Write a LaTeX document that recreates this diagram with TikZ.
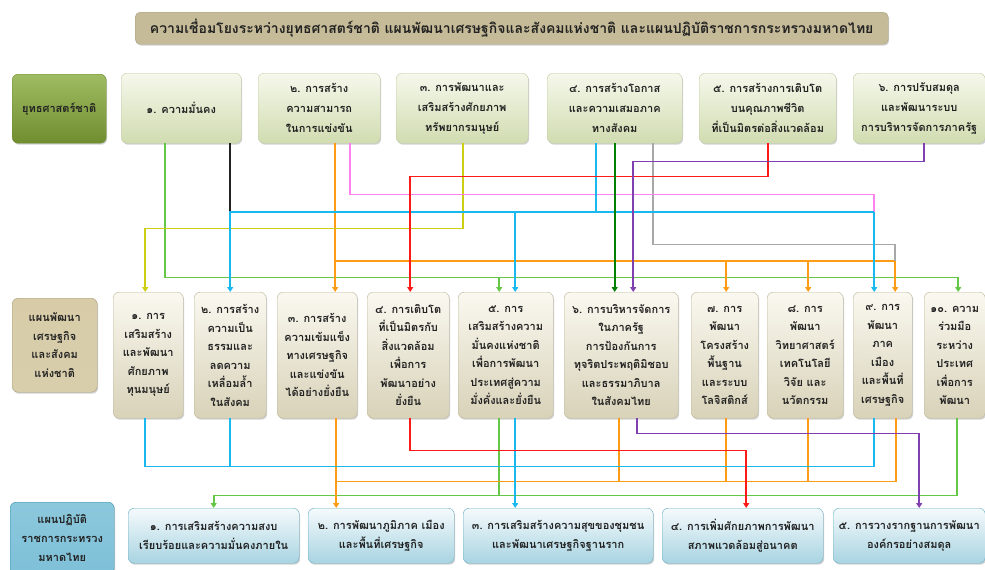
\documentclass[tikz,border=0pt]{standalone}
\usepackage{fontspec}
\newfontfamily\thai[Script=Thai]{Loma}
\usetikzlibrary{arrows.meta,shadows,calc}
\definecolor{txt}{RGB}{34,34,34}
\definecolor{cg}{RGB}{100,200,70}
\definecolor{cb}{RGB}{25,185,240}
\definecolor{co}{RGB}{255,155,20}
\definecolor{cp}{RGB}{255,130,240}
\definecolor{cy}{RGB}{205,205,20}
\definecolor{cr}{RGB}{255,26,26}
\definecolor{cdg}{RGB}{0,128,0}
\definecolor{cgr}{RGB}{168,168,168}
\definecolor{cpu}{RGB}{128,64,176}
\definecolor{cbk}{RGB}{34,34,34}
\begin{document}
\begin{tikzpicture}[x=1pt,y=-1pt,
  every node/.style={font=\thai\bfseries\fontsize{11}{18.5}\selectfont,text=txt},
  box/.style={rounded corners=6pt,draw,align=center,inner sep=0pt,anchor=north west,
    drop shadow={shadow xshift=1pt,shadow yshift=-1.5pt,opacity=0.35}},
  titlebox/.style={box,fill={rgb,255:red,198;green,187;blue,152},draw={rgb,255:red,168;green,160;blue,128},rounded corners=5pt},
  lab1/.style={box,top color={rgb,255:red,160;green,188;blue,98},middle color={rgb,255:red,138;green,168;blue,74},bottom color={rgb,255:red,112;green,142;blue,48},draw={rgb,255:red,106;green,138;blue,44}},
  row1/.style={box,top color={rgb,255:red,246;green,248;blue,236},bottom color={rgb,255:red,208;green,220;blue,176},draw={rgb,255:red,196;green,204;blue,166}},
  lab2/.style={box,top color={rgb,255:red,216;green,204;blue,168},middle color={rgb,255:red,183;green,166;blue,118},bottom color={rgb,255:red,216;green,206;blue,172},draw={rgb,255:red,170;green,158;blue,120}},
  row2/.style={box,top color={rgb,255:red,250;green,248;blue,240},bottom color={rgb,255:red,216;green,210;blue,184},draw={rgb,255:red,189;green,183;blue,154},fontr2},
  fontr2/.style={font=\thai\bfseries\fontsize{11}{18.5}\selectfont},
  lab3/.style={box,top color={rgb,255:red,140;green,200;blue,220},middle color={rgb,255:red,74;green,168;blue,200},bottom color={rgb,255:red,126;green,192;blue,216},draw={rgb,255:red,58;green,144;blue,176},font=\thai\bfseries\fontsize{11}{19}\selectfont},
  row3/.style={box,top color={rgb,255:red,245;green,250;blue,252},bottom color={rgb,255:red,168;green,212;blue,226},draw={rgb,255:red,106;green,174;blue,196},font=\thai\bfseries\fontsize{11}{19}\selectfont},
  r1font/.style={font=\thai\bfseries\fontsize{11}{20}\selectfont},
  ln/.style={line width=1.6pt},
  arr/.style={-{Triangle[width=6pt,length=5pt]}}
]
\useasboundingbox (0,0) rectangle (985,570);
\fill[white] (0,0) rectangle (985,570);

% title
\node[titlebox,minimum width=753pt,minimum height=32pt,font=\thai\bfseries\fontsize{14}{16}\selectfont] (title) at (135,12) {ความเชื่อมโยงระหว่างยุทธศาสตร์ชาติ แผนพัฒนาเศรษฐกิจและสังคมแห่งชาติ และแผนปฏิบัติราชการกระทรวงมหาดไทย};

% row 1
\node[lab1,minimum width=94pt,minimum height=69pt,r1font] (L1) at (12,74) {ยุทธศาสตร์ชาติ};
\node[row1,r1font,minimum width=120pt,minimum height=70pt] (s1) at (121,73) {๑. ความมั่นคง};
\node[row1,r1font,minimum width=122pt,minimum height=70pt] (s2) at (258,73) {๒. การสร้าง\\ความสามารถ\\ในการแข่งขัน};
\node[row1,r1font,minimum width=132pt,minimum height=70pt] (s3) at (396,73) {๓. การพัฒนาและ\\เสริมสร้างศักยภาพ\\ทรัพยากรมนุษย์};
\node[row1,r1font,minimum width=135pt,minimum height=70pt] (s4) at (547,73) {๔. การสร้างโอกาส\\และความเสมอภาค\\ทางสังคม};
\node[row1,r1font,minimum width=137pt,minimum height=70pt] (s5) at (699,73) {๕. การสร้างการเติบโต\\บนคุณภาพชีวิต\\ที่เป็นมิตรต่อสิ่งแวดล้อม};
\node[row1,r1font,minimum width=132pt,minimum height=70pt] (s6) at (853,73) {๖. การปรับสมดุล\\และพัฒนาระบบ\\การบริหารจัดการภาครัฐ};

% row 2
\node[lab2,minimum width=85pt,minimum height=94pt] (L2) at (12,298) {แผนพัฒนา\\เศรษฐกิจ\\และสังคม\\แห่งชาติ};
\node[row2,minimum width=70pt,minimum height=126pt] (p1) at (113,292) {๑. การ\\เสริมสร้าง\\และพัฒนา\\ศักยภาพ\\ทุนมนุษย์};
\node[row2,minimum width=72pt,minimum height=126pt] (p2) at (194,292) {๒. การสร้าง\\ความเป็น\\ธรรมและ\\ลดความ\\เหลื่อมล้ำ\\ในสังคม};
\node[row2,minimum width=80pt,minimum height=126pt] (p3) at (277,292) {๓. การสร้าง\\ความเข้มแข็ง\\ทางเศรษฐกิจ\\และแข่งขัน\\ได้อย่างยั่งยืน};
\node[row2,minimum width=82pt,minimum height=126pt] (p4) at (367,292) {๔. การเติบโต\\ที่เป็นมิตรกับ\\สิ่งแวดล้อม\\เพื่อการ\\พัฒนาอย่าง\\ยั่งยืน};
\node[row2,minimum width=95pt,minimum height=126pt] (p5) at (458,292) {๕. การ\\เสริมสร้างความ\\มั่นคงแห่งชาติ\\เพื่อการพัฒนา\\ประเทศสู่ความ\\มั่งคั่งและยั่งยืน};
\node[row2,minimum width=114pt,minimum height=126pt] (p6) at (564,292) {๖. การบริหารจัดการ\\ในภาครัฐ\\การป้องกันการ\\ทุจริตประพฤติมิชอบ\\และธรรมาภิบาล\\ในสังคมไทย};
\node[row2,minimum width=67pt,minimum height=126pt] (p7) at (691,292) {๗. การ\\พัฒนา\\โครงสร้าง\\พื้นฐาน\\และระบบ\\โลจิสติกส์};
\node[row2,minimum width=76pt,minimum height=126pt] (p8) at (767,292) {๘. การ\\พัฒนา\\วิทยาศาสตร์\\เทคโนโลยี\\วิจัย และ\\นวัตกรรม};
\node[row2,minimum width=59pt,minimum height=126pt] (p9) at (853,292) {๙. การ\\พัฒนา\\ภาค\\เมือง\\และพื้นที่\\เศรษฐกิจ};
\node[row2,minimum width=61pt,minimum height=126pt] (p10) at (924,292) {๑๐. ความ\\ร่วมมือ\\ระหว่าง\\ประเทศ\\เพื่อการ\\พัฒนา};

% row 3
\node[lab3,minimum width=104pt,minimum height=72pt] (L3) at (10,502) {แผนปฏิบัติ\\ราชการกระทรวง\\มหาดไทย};
\node[row3,minimum width=171pt,minimum height=55pt] (q1) at (128,508) {๑. การเสริมสร้างความสงบ\\เรียบร้อยและความมั่นคงภายใน};
\node[row3,minimum width=146pt,minimum height=55pt] (q2) at (308,508) {๒. การพัฒนาภูมิภาค เมือง\\และพื้นที่เศรษฐกิจ};
\node[row3,minimum width=190pt,minimum height=55pt] (q3) at (463,508) {๓. การเสริมสร้างความสุขของชุมชน\\และพัฒนาเศรษฐกิจฐานราก};
\node[row3,minimum width=161pt,minimum height=55pt] (q4) at (662,508) {๔. การเพิ่มศักยภาพการพัฒนา\\สภาพแวดล้อมสู่อนาคต};
\node[row3,minimum width=152pt,minimum height=55pt] (q5) at (833,508) {๕. การวางรากฐานการพัฒนา\\องค์กรอย่างสมดุล};

% ---- connectors: strategy -> national plan
\draw[ln,cg,arr] ([xshift=-16pt]s1.south) -- ++(0,134) -| ([xshift=3.5pt]p10.north);
\draw[ln,cg,arr] ([xshift=-6.5pt]p5.north) ++(0,-15) -- ([xshift=-6.5pt]p5.north);
\draw[ln,co,arr] ([xshift=16pt]s2.south) -- ([xshift=18pt]p3.north);
\draw[ln,co,arr] ([xshift=18pt]p3.north) ++(0,-31) -| ([xshift=12.5pt]p9.north);
\draw[ln,co,arr] ([xshift=1.5pt]p7.north) ++(0,-31) -- ([xshift=1.5pt]p7.north);
\draw[ln,co,arr] ([xshift=3pt]p8.north) ++(0,-31) -- ([xshift=3pt]p8.north);
\draw[ln,cgr] ([xshift=38.5pt]s4.south) -- ++(0,101) -- ++(242,0) -- ++(0,17);
\draw[ln,cy,arr] ([xshift=1pt]s3.south) -- ++(0,85) -| ([xshift=-3pt]p1.north);
\draw[ln,cp] ([xshift=31pt]s2.south) -- ++(0,51) -- ++(524,0) -- ++(0,18);
\draw[ln,cbk] ([xshift=49pt]s1.south) -- ++(0,69);
\draw[ln,cb] ([xshift=-18.5pt]s4.south) -- ++(0,69);
\draw[ln,cb,arr] ([xshift=-8.5pt]p9.north) ++(0,-80) -| (p2.north);
\draw[ln,cb,arr] ([xshift=-8.5pt]p9.north) ++(0,-80) -- ([xshift=-8.5pt]p9.north);
\draw[ln,cb,arr] ([xshift=9.5pt]p5.north) ++(0,-80) -- ([xshift=9.5pt]p5.north);
\draw[ln,cr,arr] (s5.south) -- ++(0,33) -| ([xshift=2pt]p4.north);
\draw[ln,cdg,arr] (s4.south) -- ([xshift=-6.5pt]p6.north);
\draw[ln,cpu,arr] ([xshift=5pt]s6.south) -- ++(0,18) -| ([xshift=12pt]p6.north);

% ---- connectors: national plan -> ministry plan
\draw[ln,cg,arr] ([xshift=2.5pt]p10.south) -- ++(0,77) -| (q1.north);
\draw[ln,cg] ([xshift=-6.5pt]p5.south) -- ++(0,77);
\draw[ln,co,arr] ([xshift=13.5pt]p9.south) -- ++(0,63) -| ([xshift=-45pt]q2.north);
\draw[ln,co] ([xshift=19pt]p3.south) -- ++(0,63);
\draw[ln,co] ([xshift=-2pt]p6.south) -- ++(0,63);
\draw[ln,co] ([xshift=1.5pt]p7.south) -- ++(0,63);
\draw[ln,co] ([xshift=3pt]p8.south) -- ++(0,63);
\draw[ln,cb] ([xshift=-3pt]p1.south) -- ++(0,48) -| ([xshift=-8.5pt]p9.south);
\draw[ln,cb] (p2.south) -- ++(0,48);
\draw[ln,cb,arr] ([xshift=9.5pt]p5.south) -- ([xshift=-43pt]q3.north);
\draw[ln,cr,arr] ([xshift=2pt]p4.south) -- ++(0,32) -| ([xshift=3.5pt]q4.north);
\draw[ln,cpu,arr] ([xshift=16pt]p6.south) -- ++(0,15) -| ([xshift=10pt]q5.north);
\end{tikzpicture}
\end{document}
